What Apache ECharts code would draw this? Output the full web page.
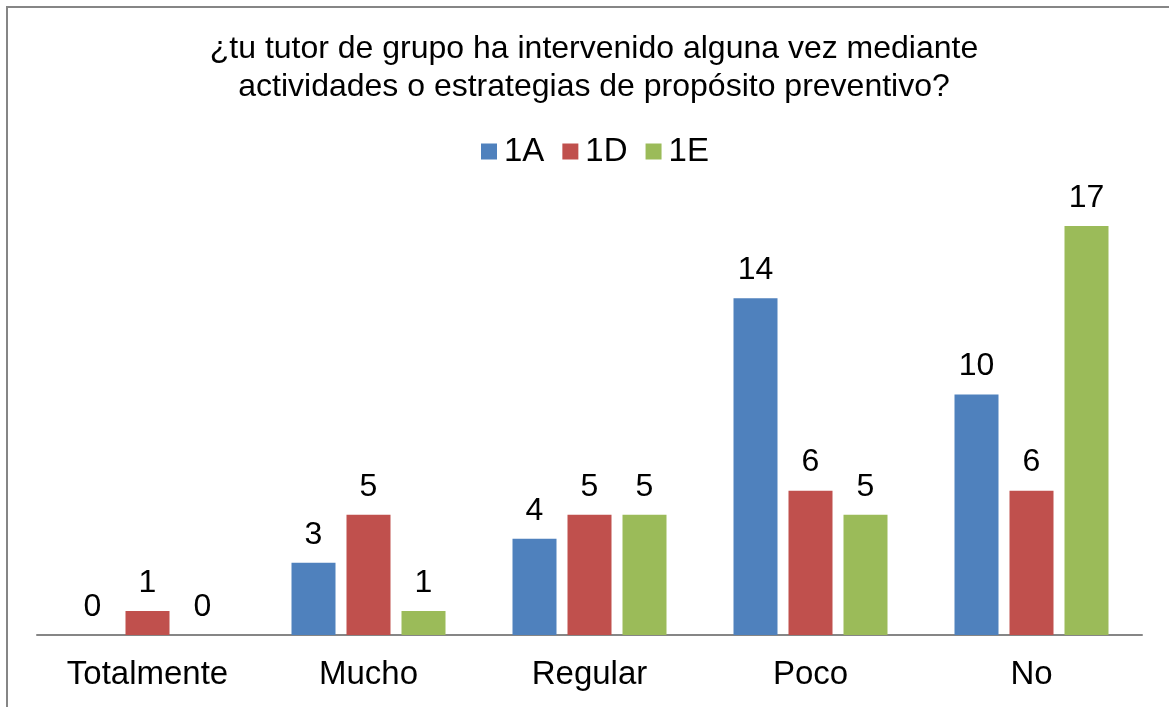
<!DOCTYPE html>
<html>
<head>
<meta charset="utf-8">
<script src="https://cdn.jsdelivr.net/npm/echarts@6/dist/echarts.min.js"></script>
<style>
  html, body { margin: 0; padding: 0; background: #fff; }
  #chart { width: 1169px; height: 707px; }
</style>
</head>
<body>
<div id="chart"></div>
<script>
var categories = ['Totalmente', 'Mucho', 'Regular', 'Poco', 'No'];
var seriesNames = ['1A', '1D', '1E'];
var values1A = [0, 3, 4, 14, 10];
var values1D = [1, 5, 5, 6, 6];
var values1E = [0, 1, 5, 5, 17];
var colors = ['#4f81bd', '#c0504d', '#9bbb59'];

var font = 'Liberation Sans, Arial, sans-serif';
var chart = echarts.init(document.getElementById('chart'), null, { renderer: 'canvas' });

function makeSeries(name, data, color) {
    return {
        name: name,
        type: 'bar',
        data: data,
        barWidth: 44,
        barGap: '25%',
        itemStyle: { color: color },
        label: {
            show: true,
            position: 'top',
            distance: 12,
            color: '#000',
            fontFamily: font,
            fontSize: 32
        }
    };
}

var option = {
    animation: false,
    backgroundColor: '#fff',
    graphic: [{
        type: 'rect',
        shape: { x: 7, y: 7, width: 1200, height: 760 },
        style: { fill: null, stroke: '#868686', lineWidth: 2 },
        silent: true
    }],
    title: {
        text: '¿tu tutor de grupo ha intervenido alguna vez mediante\nactividades o estrategias de propósito preventivo?',
        left: 589,
        textAlign: 'center',
        top: 25,
        textStyle: {
            fontFamily: font,
            fontSize: 32,
            fontWeight: 'normal',
            color: '#000',
            lineHeight: 38
        }
    },
    legend: {
        data: seriesNames,
        top: 130,
        left: 476,
        icon: 'rect',
        itemWidth: 16,
        itemHeight: 16,
        itemGap: 18,
        textStyle: { fontFamily: font, fontSize: 33, color: '#000', padding: [0, 0, 0, 2] }
    },
    grid: { left: 37, right: 27, top: 202, bottom: 72, containLabel: false },
    xAxis: {
        type: 'category',
        data: categories,
        axisLine: { lineStyle: { color: '#868686', width: 2 } },
        axisTick: { show: false },
        axisLabel: { fontFamily: font, fontSize: 33, color: '#000', margin: 23 }
    },
    yAxis: {
        type: 'value',
        min: 0,
        max: 18,
        show: false,
        splitLine: { show: false }
    },
    series: [
        makeSeries(seriesNames[0], values1A, colors[0]),
        makeSeries(seriesNames[1], values1D, colors[1]),
        makeSeries(seriesNames[2], values1E, colors[2])
    ]
};

chart.setOption(option);
window.addEventListener('resize', chart.resize);
</script>
</body>
</html>
